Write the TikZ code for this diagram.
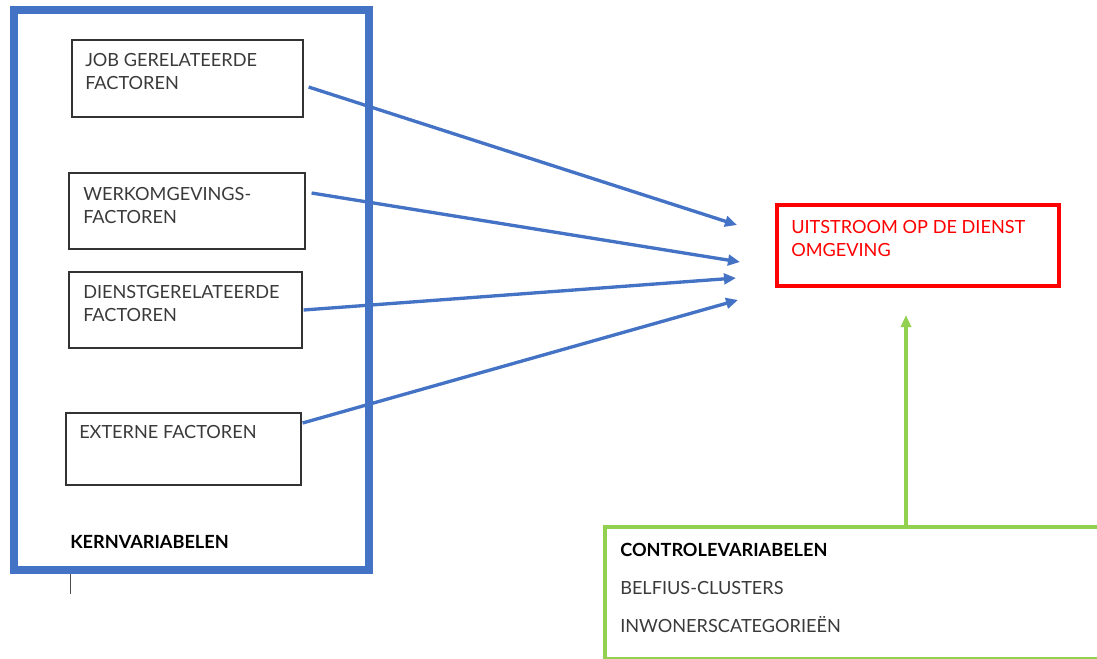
\documentclass[tikz,border=0pt]{standalone}
\usepackage{fontspec}
\setmainfont{Lato}
\usepackage{xcolor}
\usepackage{tikz}
\usetikzlibrary{calc,arrows.meta,positioning}

\definecolor{kernblue}{HTML}{4472C4}
\definecolor{ctrlgreen}{HTML}{92D050}
\definecolor{txtgray}{HTML}{3A3A3A}

\newcommand{\fs}{\fontsize{13.6pt}{17.25pt}\selectfont}

\begin{document}
\begin{tikzpicture}[x=0.75pt, y=-0.75pt,
    every node/.style={font=\fs, text=txtgray},
    factorbox/.style={draw=black!80, line width=0.9pt, minimum width=#1},
    txt/.style={anchor=north west, inner sep=0pt, align=left},
    kernarrow/.style={->, >={Triangle[length=9pt, width=8pt]}, line width=2.5pt, kernblue}]

\useasboundingbox (0,0) rectangle (1097,658);

% Core variables frame
\node[draw=kernblue, line width=6pt, minimum width=355*0.75pt, minimum height=560*0.75pt] (frame) at (191.5, 290) {};

% Factor boxes
\node[factorbox=231*0.75pt, minimum height=77*0.75pt] (job) at (187.5, 78.5) {};
\node[factorbox=236*0.75pt, minimum height=76*0.75pt] (werk) at (187, 211) {};
\node[factorbox=233*0.75pt, minimum height=76*0.75pt] (dienst) at (185.5, 310) {};
\node[factorbox=235*0.75pt, minimum height=72*0.75pt] (extern) at (183.5, 449) {};

\node[txt] (jobtxt) at (85, 53) {JOB GERELATEERDE\\FACTOREN};
\node[txt] (werktxt) at (83, 187) {WERKOMGEVINGS-\\FACTOREN};
\node[txt] (diensttxt) at (83, 285) {DIENSTGERELATEERDE\\FACTOREN};
\node[txt] (externtxt) at (79, 425) {EXTERNE FACTOREN};

\node[txt, font=\fs\bfseries, text=black] (kernlbl) at (70, 535) {KERNVARIABELEN};
\draw[line width=0.6pt, black!70] (kernlbl.west |- frame.south) -- ++(0, 20);

% Outcome
\node[draw=red, line width=3pt, minimum width=282*0.75pt, minimum height=81*0.75pt] (uit) at (918, 245.5) {};
\node[txt, text=red] (uittxt) at (791, 220) {UITSTROOM OP DE DIENST\\OMGEVING};

% Control variables (runs off the page)
\node[draw=ctrlgreen, line width=3pt, minimum width=505*0.75pt, minimum height=132*0.75pt] (ctrl) at (857.5, 593) {};
\node[txt, font=\fs\bfseries, text=black] (ctrllbl) at (620, 543) {CONTROLEVARIABELEN};
\node[txt] (belfius) at (620, 581) {BELFIUS-CLUSTERS};
\node[txt] (inwoners) at (620, 616) {INWONERSCATEGORIEËN};

% Arrow tips
\coordinate (t1) at (737, 225);
\coordinate (t2) at (740, 262);
\coordinate (t3) at (736, 278);
\coordinate (t4) at (738, 300);
\coordinate (tc) at (906, 315);

% Arrows: core variables to outcome
\draw[kernarrow] ([shift={(5,8.5)}]job.east) -- (t1);
\draw[kernarrow] ([shift={(6,-18)}]werk.east) -- (t2);
\draw[kernarrow] ([shift={(1,0)}]dienst.east) -- (t3);
\draw[kernarrow] ([shift={(1,-26)}]extern.east) -- (t4);

% Arrow: control variables to outcome
\draw[->, >={Triangle[length=9pt, width=7.5pt]}, line width=2.5pt, ctrlgreen] (ctrl.north -| tc) -- (tc);

\end{tikzpicture}
\end{document}
